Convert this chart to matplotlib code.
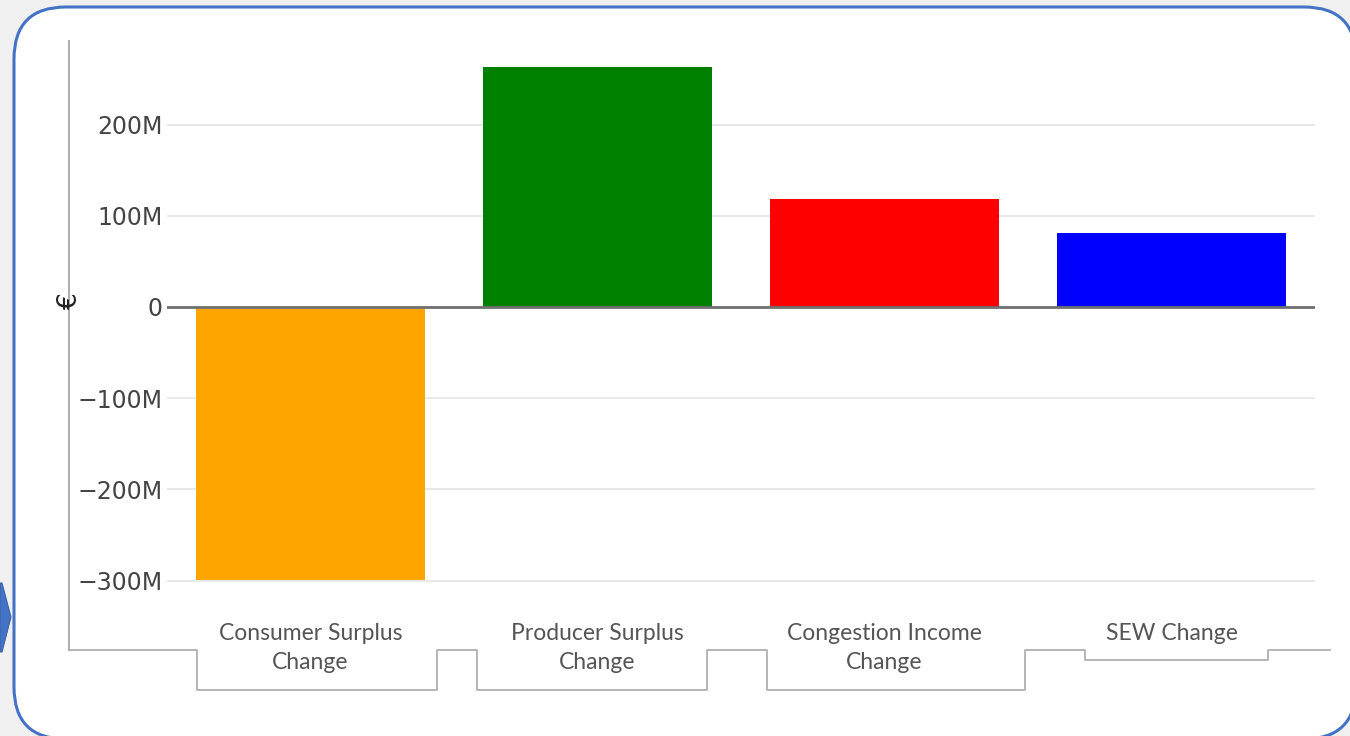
import matplotlib.pyplot as plt
from matplotlib.patches import FancyBboxPatch, Polygon
from matplotlib.ticker import FuncFormatter
import numpy as np

# données (en euros)
categories = ['Consumer Surplus\nChange', 'Producer Surplus\nChange',
              'Congestion Income\nChange', 'SEW Change']
values = [-299e6, 263.5e6, 118.5e6, 81.1e6]
colors = ['#FFA500', '#008000', '#FF0000', '#0000FF']
yticks = [-300e6, -200e6, -100e6, 0, 100e6, 200e6]

W, H = 1350, 736
fig = plt.figure(figsize=(W / 100, H / 100), dpi=100)
fig.patch.set_facecolor('#f0f0f0')

# calque de fond en pixels (cadre arrondi, axe vertical, crochets)
bg = fig.add_axes([0, 0, 1, 1], zorder=0)
bg.set_xlim(0, W)
bg.set_ylim(H, 0)
bg.axis('off')
bg.add_patch(FancyBboxPatch((14, 7), 1342, 732,
                            boxstyle='round,pad=0,rounding_size=52',
                            facecolor='white', edgecolor='#4472C4', lw=2.2))
bg.add_patch(Polygon([(0, 583), (2, 583), (11, 617), (2, 652), (0, 652)],
                     closed=True, facecolor='#4472C4', edgecolor='#3a62a8', lw=0.8))
bg.plot([69, 69], [41, 650], color='#b0b0b0', lw=1.5)
bx = [69, 197, 197, 437, 437, 477, 477, 707, 707, 767, 767, 1025, 1025,
      1085, 1085, 1268, 1268, 1330]
by = [650, 650, 690, 690, 650, 650, 690, 690, 650, 650, 690, 690, 650,
      650, 660, 660, 650, 650]
bg.plot(bx, by, color='#b0b0b0', lw=1.3)
bg.text(70, 301, '€', rotation=90, ha='center', va='center',
        fontsize=19, color='#222222')

# axe principal
left, right, top, bottom = 167, 1315, 41, 650
ax = fig.add_axes([left / W, 1 - bottom / H, (right - left) / W, (bottom - top) / H],
                  zorder=1)
ax.set_facecolor('none')
x = np.arange(len(categories))
ax.bar(x, values, width=0.8, color=colors, zorder=2)
ax.axhline(0, color='#707070', lw=2, zorder=3)

ax.set_ylim(-(bottom - 307) / 0.912 * 1e6, (307 - top) / 0.912 * 1e6)
ax.set_xlim(-0.5, 3.5)
ax.set_yticks(yticks)
ax.yaxis.set_major_formatter(FuncFormatter(
    lambda v, p: '0' if v == 0 else ('\u2212' if v < 0 else '') + '%dM' % abs(round(v / 1e6))))
ax.grid(axis='y', color='#e8e8e8', lw=1.5, zorder=1)
ax.tick_params(axis='y', length=0, pad=3, labelsize=17, labelcolor='#444444')
ax.set_xticks([])
for s in ax.spines.values():
    s.set_visible(False)

# étiquettes de catégories
for i, c in enumerate(categories):
    ax.text(i, -(623 - 307) / 0.912 * 1e6, c, ha='center', va='top',
            fontsize=16.5, family='Lato', color='#555555', linespacing=1.47)

plt.savefig('out.png', dpi=100, facecolor=fig.get_facecolor())
